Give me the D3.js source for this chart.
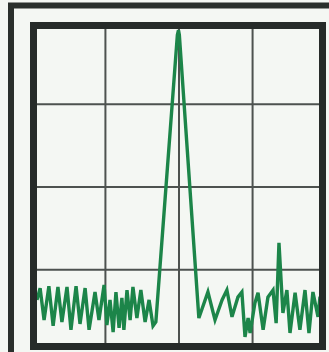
<!DOCTYPE html>
<html>
<head>
<meta charset="utf-8">
<script src="https://cdn.jsdelivr.net/npm/d3@7"></script>
<style>
  html, body { margin: 0; padding: 0; background: #f4f7f3; }
  svg { display: block; }
  .grid line { stroke: #4d524f; stroke-width: 2; }
  .grid .domain { display: none; }
</style>
</head>
<body>
<div id="chart"></div>
<script>
// spectrum trace: frequency (0..100) and level (dB)
const freq = [0, 1.1, 2.5, 4.2, 5.7, 7.4, 8.8, 10.6, 12.0, 13.8, 15.2, 17.0, 18.4, 20.5, 21.9, 23.7,
  24.7, 25.8, 26.9, 27.9, 29.0, 30.0, 30.7, 31.8, 32.9, 33.9, 35.3, 36.7, 38.2, 39.6, 41.0, 42.0,
  49.6, 50.0, 50.3, 57.2, 60.4, 62.9, 65.4, 67.1, 68.9, 71.0, 72.4, 73.5, 74.6, 75.3, 77.0, 78.1,
  79.9, 81.6, 83.4, 84.5, 85.5, 86.9, 88.3, 89.4, 91.2, 92.9, 94.7, 96.1, 97.5, 99.3, 100];
const level = [-68.8, -65.8, -73.9, -65.3, -75.4, -65.5, -74.4, -65.5, -76.4, -65.3, -74.9, -65.8, -76.4, -66.8, -73.9, -65.0,
  -75.2, -68.8, -77.0, -66.8, -75.9, -68.3, -76.4, -66.3, -73.9, -65.5, -73.4, -66.3, -74.4, -68.8, -75.4, -74.4,
  -1.5, -0.3, -1.5, -73.4, -66.8, -73.9, -68.8, -66.3, -73.1, -68.1, -66.8, -78.2, -73.4, -77.2, -69.6, -67.0,
  -76.4, -68.1, -66.3, -74.7, -54.3, -72.1, -66.3, -77.2, -67.0, -76.4, -66.3, -77.2, -66.8, -73.1, -68.0];

// graticule positions
const gridFreq = [24, 50, 76];
const gridLevel = [-19, -40, -61];

const WIDTH = 329;
const HEIGHT = 352;
const PLOT = { left: 37, right: 320, top: 29, bottom: 344 };

const svg = d3.select("#chart").append("svg")
  .attr("width", WIDTH)
  .attr("height", HEIGHT);

const x = d3.scaleLinear().domain([0, 100]).range([PLOT.left, PLOT.right]);
const y = d3.scaleLinear().domain([-80, 0]).range([PLOT.bottom, PLOT.top]);

svg.append("rect")
  .attr("width", WIDTH).attr("height", HEIGHT)
  .attr("fill", "#f4f7f3");

// outer frame (runs off the right and bottom edges)
svg.append("rect")
  .attr("x", 11).attr("y", 5.5)
  .attr("width", 340).attr("height", 370)
  .attr("fill", "none")
  .attr("stroke", "#2a2f2c")
  .attr("stroke-width", 6);

svg.append("defs").append("clipPath").attr("id", "plot-clip")
  .append("rect")
  .attr("x", PLOT.left).attr("y", PLOT.top)
  .attr("width", PLOT.right - PLOT.left)
  .attr("height", PLOT.bottom - PLOT.top);

// grid
svg.append("g").attr("class", "grid")
  .attr("transform", `translate(0,${PLOT.bottom})`)
  .call(d3.axisBottom(x).tickValues(gridFreq).tickSize(-(PLOT.bottom - PLOT.top)).tickFormat(""));

svg.append("g").attr("class", "grid")
  .attr("transform", `translate(${PLOT.left},0)`)
  .call(d3.axisLeft(y).tickValues(gridLevel).tickSize(-(PLOT.right - PLOT.left)).tickFormat(""));

const data = freq.map((f, i) => ({ f: f, db: level[i] }));

const lineGenerator = d3.line()
  .x(d => x(d.f))
  .y(d => y(d.db));

svg.append("path")
  .datum(data)
  .attr("clip-path", "url(#plot-clip)")
  .attr("fill", "none")
  .attr("stroke", "#1c8549")
  .attr("stroke-width", 3.4)
  .attr("stroke-linejoin", "miter")
  .attr("d", lineGenerator);

// inner frame
svg.append("rect")
  .attr("x", 33.5).attr("y", 25.5)
  .attr("width", 289).attr("height", 321)
  .attr("fill", "none")
  .attr("stroke", "#262b29")
  .attr("stroke-width", 7);
</script>
</body>
</html>
